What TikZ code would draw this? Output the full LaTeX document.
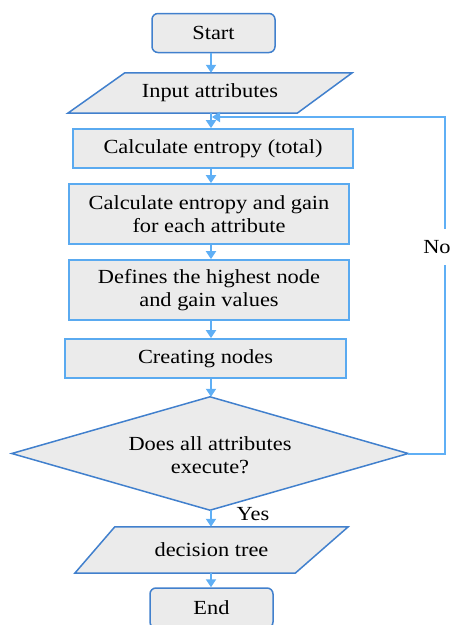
\documentclass[tikz,border=0pt]{standalone}
\usepackage{fontspec}
\setmainfont{Liberation Serif}[FakeStretch=1.12]
\usetikzlibrary{arrows.meta,calc}
\definecolor{arrowblue}{RGB}{95,175,245}
\definecolor{boxblue}{RGB}{90,170,240}
\definecolor{darkblue}{RGB}{65,128,205}
\definecolor{boxfill}{RGB}{235,235,235}
\begin{document}
\begin{tikzpicture}[x=1pt,y=-1pt,
  txt/.style={font=\fontsize{20}{23}\selectfont, align=center, inner sep=0pt},
  procbox/.style={txt, draw=boxblue, line width=1.8pt, fill=boxfill},
  termbox/.style={txt, draw=darkblue, line width=1.5pt, fill=boxfill, rounded corners=6pt},
  shapeline/.style={draw=darkblue, line width=1.5pt, fill=boxfill, line join=miter},
  arr/.style={draw=arrowblue, line width=2pt, -{Triangle[width=10pt,length=8pt]}},
  loopline/.style={draw=arrowblue, line width=2pt}
]
\useasboundingbox (0,0) rectangle (451,625);
\coordinate (ax) at (211,0);
\coordinate (rx) at (445,0);
\coordinate (j) at (212,117);

\node[termbox, minimum width=123pt, minimum height=39pt] (start) at (213.5,33) {Start};

% input parallelogram
\node[txt, minimum width=284pt, minimum height=40pt] (inp) at (210,93) {};
\path[shapeline] ($(inp.north west)+(57,0)$) -- (inp.north east) -- ($(inp.south east)+(-55,0)$) -- (inp.south west) -- cycle;
\node[txt] at (inp.center) {Input attributes};

\node[procbox, minimum width=280pt, minimum height=39pt] (c1) at (213,148.5) {Calculate entropy (total)};
\node[procbox, minimum width=280pt, minimum height=60pt] (c2) at (209,214) {Calculate entropy and gain\\for each attribute};
\node[procbox, minimum width=280pt, minimum height=60pt] (c3) at (209,290) {Defines the highest node\\and gain values};
\node[procbox, minimum width=281pt, minimum height=39pt] (c4) at (205.5,358.5) {Creating nodes};

% decision diamond
\node[txt, minimum width=396pt, minimum height=113pt] (dec) at (210,453.5) {};
\path[shapeline] (dec.west) -- (dec.north) -- (dec.east) -- (dec.south) -- cycle;
\node[txt] at ($(dec.center)+(0,2)$) {Does all attributes\\execute?};

% decision tree parallelogram
\node[txt, minimum width=273pt, minimum height=46pt] (dt) at (211.5,550) {};
\path[shapeline] ($(dt.north west)+(40,0)$) -- (dt.north east) -- ($(dt.south east)+(-53,0)$) -- (dt.south west) -- cycle;
\node[txt] at (dt.center) {decision tree};

\node[termbox, minimum width=123pt, minimum height=40pt] (end) at (211.5,608) {End};

% connectors
\draw[arr] (start.south -| ax) -- (inp.north -| ax);
\draw[arr] (inp.south -| ax) -- (c1.north -| ax);
\draw[arr] (c1.south -| ax) -- (c2.north -| ax);
\draw[arr] (c2.south -| ax) -- (c3.north -| ax);
\draw[arr] (c3.south -| ax) -- (c4.north -| ax);
\draw[arr] (c4.south -| ax) -- (dec.north -| ax);
\draw[arr] (dec.south -| ax) -- (dt.north -| ax);
\draw[arr] (dt.south -| ax) -- (end.north -| ax);
\draw[arr] (dec.east) -- (dec.east -| rx) -- (rx |- j) -- (j);

\node[txt, fill=white, inner xsep=2pt, inner ysep=11pt] (no) at (437,247) {No};
\node[txt] (yes) at (253,514) {Yes};
\end{tikzpicture}
\end{document}
